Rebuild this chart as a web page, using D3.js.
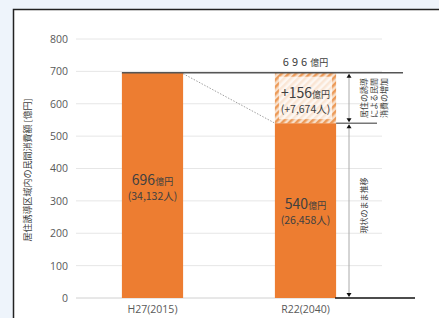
<!DOCTYPE html>
<html>
<head>
<meta charset="utf-8">
<script src="https://cdn.jsdelivr.net/npm/d3@7"></script>
<style>
  body { margin: 0; background: #eef4fb; }
  svg { display: block; }
  text { font-family: "Noto Sans CJK JP", "Noto Sans", sans-serif; fill: #404040; }
  .tick text { font-family: "Open Sans", "Noto Sans", sans-serif; fill: #595959; font-size: 10.5px; }
</style>
</head>
<body>
<svg id="chart" width="439" height="318"></svg>
<script>
var categories = ["H27(2015)", "R22(2040)"];
var baseValues = [696, 540];
var increase   = [0, 156];
var baseLabels = ["696", "540"];
var peopleLabels = ["(34,132人)", "(26,458人)"];
var incLabel = "+156", incPeople = "(+7,674人)";
var totalLabel = "696";
var yTicks = [0, 100, 200, 300, 400, 500, 600, 700, 800];

var svg = d3.select("#chart");
var orange = "#ed7d31";

// white panel with dark border on top / left
svg.append("rect").attr("x", 13).attr("y", 9).attr("width", 440).attr("height", 320)
  .attr("fill", "#fff");
svg.append("path").attr("d", "M13.5,330V9.5H440").attr("fill", "none")
  .attr("stroke", "#222").attr("stroke-width", 1.5);

var x = d3.scaleBand().domain(categories).range([76, 382]).paddingInner(0.6).paddingOuter(0.3),
    y = d3.scaleLinear().domain([0, 800]).range([298, 39]);

var defs = svg.append("defs");
var pat = defs.append("pattern").attr("id", "hatch").attr("patternUnits", "userSpaceOnUse")
  .attr("width", 5).attr("height", 5).attr("patternTransform", "rotate(45)");
pat.append("rect").attr("width", 5).attr("height", 5).attr("fill", "#f8e0cb");
pat.append("rect").attr("width", 2.5).attr("height", 5).attr("fill", "#ec9a58");

// grid + y axis
var g = svg.append("g");
g.append("g").selectAll("line").data(yTicks.slice(1)).join("line")
  .attr("x1", 76).attr("x2", 382)
  .attr("y1", function(d) { return y(d); }).attr("y2", function(d) { return y(d); })
  .attr("stroke", "#e6e6e6").attr("stroke-width", 1);

g.append("g").attr("transform", "translate(76,0)")
  .call(d3.axisLeft(y).tickValues(yTicks).tickSize(0).tickPadding(8))
  .call(function(a) { a.select(".domain").remove(); });

g.append("line").attr("x1", 76).attr("x2", 336).attr("y1", y(0)).attr("y2", y(0))
  .attr("stroke", "#d0d0d0");

g.append("g").attr("transform", "translate(0," + (y(0) + 2) + ")")
  .call(d3.axisBottom(x).tickSize(0).tickPadding(6))
  .call(function(a) { a.select(".domain").remove(); });

// bars
g.selectAll(".bar").data(categories).join("rect")
  .attr("x", function(d) { return x(d); })
  .attr("y", function(d, i) { return y(baseValues[i]); })
  .attr("width", x.bandwidth())
  .attr("height", function(d, i) { return y(0) - y(baseValues[i]); })
  .attr("fill", orange);

// increase box (hatched)
var bx = x(categories[1]), bw = x.bandwidth();
var yTop = y(baseValues[1] + increase[1]), yBot = y(baseValues[1]);
g.append("rect").attr("x", bx).attr("y", yTop).attr("width", bw).attr("height", yBot - yTop)
  .attr("fill", "url(#hatch)");
g.append("rect").attr("x", bx + 4).attr("y", yTop + 4).attr("width", bw - 8).attr("height", yBot - yTop - 8)
  .attr("fill", "#fff").attr("fill-opacity", 0.75);

// dotted connector
g.append("line").attr("x1", x(categories[0]) + bw).attr("y1", y(baseValues[0]) + 1)
  .attr("x2", bx).attr("y2", yBot)
  .attr("stroke", "#888").attr("stroke-width", 0.8).attr("stroke-dasharray", "1.5,1.5");

// reference lines
g.append("line").attr("x1", x(categories[0])).attr("x2", 403)
  .attr("y1", y(baseValues[0])).attr("y2", y(baseValues[0]))
  .attr("stroke", "#555").attr("stroke-width", 1.5);
g.append("line").attr("x1", bx + bw).attr("x2", 377).attr("y1", yBot).attr("y2", yBot)
  .attr("stroke", "#777").attr("stroke-width", 1.5);
g.append("line").attr("x1", bx + bw - 1).attr("x2", 415).attr("y1", y(0)).attr("y2", y(0))
  .attr("stroke", "#111").attr("stroke-width", 1.5);

// arrows
var ax = 349;
function arrow(y1, y2) {
  g.append("line").attr("x1", ax).attr("x2", ax).attr("y1", y1 + 2).attr("y2", y2 - 2)
    .attr("stroke", "#aaa").attr("stroke-width", 1);
  g.append("path").attr("d", "M" + (ax - 2.5) + "," + (y1 + 5) + "L" + ax + "," + (y1 + 1) + "L" + (ax + 2.5) + "," + (y1 + 5) + "Z")
    .attr("fill", "#111");
  g.append("path").attr("d", "M" + (ax - 2.5) + "," + (y2 - 5) + "L" + ax + "," + (y2 - 1) + "L" + (ax + 2.5) + "," + (y2 - 5) + "Z")
    .attr("fill", "#111");
}
arrow(y(baseValues[0]), yBot);
arrow(yBot, y(0));

// value labels
function valueLabel(cx, cy, num, sub, size) {
  var t = g.append("text").attr("x", cx).attr("y", cy).attr("text-anchor", "middle");
  t.append("tspan").attr("font-size", size).text(num);
  t.append("tspan").attr("font-size", 9).text("億円");
  g.append("text").attr("x", cx).attr("y", cy + 15).attr("text-anchor", "middle")
    .attr("font-size", 10.5).text(sub);
}
var c0 = x(categories[0]) + bw / 2, c1 = bx + bw / 2;
valueLabel(c0, 185, baseLabels[0], peopleLabels[0], 14);
valueLabel(c1, 209, baseLabels[1], peopleLabels[1], 14);
valueLabel(c1, 98, incLabel, incPeople, 14);

var tt = g.append("text").attr("x", c1).attr("y", 66).attr("text-anchor", "middle");
tt.append("tspan").attr("font-size", 11).attr("letter-spacing", 3).text(totalLabel);
tt.append("tspan").attr("font-size", 9).text("億円");

// side notes (rotated)
var note1 = ["居住の誘導", "による民間", "消費の増加"];
var n1 = g.append("text").attr("transform", "translate(367," + ((y(baseValues[0]) + yBot) / 2) + ") rotate(-90)")
  .attr("text-anchor", "middle").attr("font-size", 8);
n1.selectAll("tspan").data(note1).join("tspan")
  .attr("x", 0).attr("dy", function(d, i) { return i ? 10 : 0; }).text(function(d) { return d; });
g.append("text").attr("transform", "translate(367," + ((yBot + y(0)) / 2 - 5) + ") rotate(-90)")
  .attr("text-anchor", "middle").attr("font-size", 8).text("現状のまま推移");

// y axis title
g.append("text").attr("transform", "translate(31,170) rotate(-90)")
  .attr("text-anchor", "middle").attr("font-size", 9).text("居住誘導区域内の民間消費額 [億円]");
</script>
</body>
</html>
